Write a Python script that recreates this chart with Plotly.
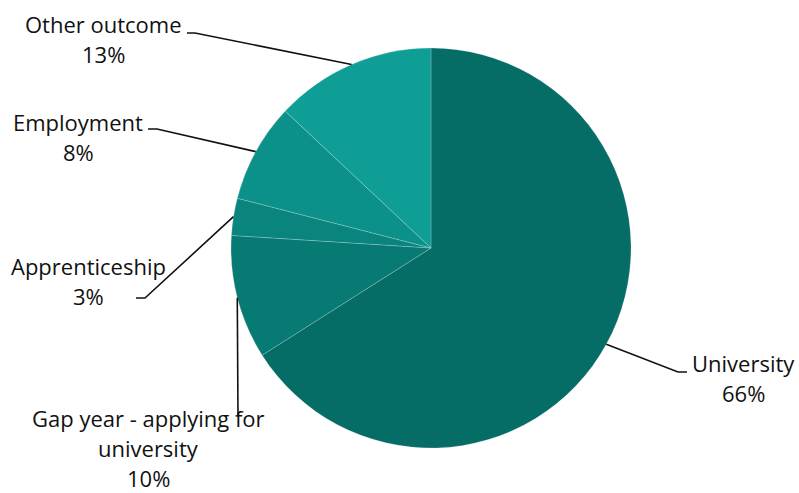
import math
import plotly.graph_objects as go

# ---- data ----
labels = ["University", "Gap year - applying for university", "Apprenticeship", "Employment", "Other outcome"]
values = [66, 10, 3, 8, 13]
label_lines = [["University"], ["Gap year - applying for", "university"], ["Apprenticeship"], ["Employment"], ["Other outcome"]]
colors = ["#056C66", "#077A73", "#09857E", "#0B9189", "#0E9E95"]

# ---- layout constants (pixels) ----
W, H = 799, 493
CX, CY, R = 431, 248, 200
FONT = "Open Sans"
FS = 22
LINE_H = 30

# label placement: (elbow point, end point, text center x, text first line center y)
placement = {
    "University": ((678, 372), (687, 372), 743, 363),
    "Gap year - applying for university": ((238, 417), (238, 417), 148, 418),
    "Apprenticeship": ((145, 298), (136, 298), 88, 266),
    "Employment": ((157, 129), (148, 129), 78, 122),
    "Other outcome": ((195, 33), (187, 33), 103, 24),
}

def px(x):
    return x / W

def py(y):
    return 1 - y / H

fig = go.Figure(go.Pie(
    labels=labels,
    values=values,
    sort=False,
    direction="clockwise",
    rotation=0,
    marker=dict(colors=colors, line=dict(color="rgba(255,255,255,0.25)", width=0.8)),
    textinfo="none",
    hoverinfo="label+percent",
    domain=dict(x=[px(CX - R), px(CX + R)], y=[py(CY + R), py(CY - R)]),
    showlegend=False,
))

annotations = []
shapes = []
total = sum(values)
cum = 0
for lab, val, lines in zip(labels, values, label_lines):
    mid = (cum + val / 2) / total * 2 * math.pi
    cum += val
    ax = CX + R * math.sin(mid)
    ay = CY - R * math.cos(mid)
    (ex, ey), (tx, ty), cx_text, cy_text = placement[lab]
    path = f"M {px(ax)},{py(ay)} L {px(ex)},{py(ey)} L {px(tx)},{py(ty)}"
    shapes.append(dict(type="path", xref="paper", yref="paper", path=path,
                       line=dict(color="#111111", width=1.6)))
    pct = round(val / total * 100)
    text_rows = lines + [f"{pct}%"]
    for i, row in enumerate(text_rows):
        annotations.append(dict(
            x=px(cx_text), y=py(cy_text + i * LINE_H), xref="paper", yref="paper",
            text=row, showarrow=False, xanchor="center", yanchor="middle", borderpad=0,
            font=dict(family=FONT, size=FS, color="#111111", weight=500),
        ))

fig.update_layout(
    width=W, height=H,
    margin=dict(l=0, r=0, t=0, b=0),
    paper_bgcolor="white",
    plot_bgcolor="white",
    annotations=annotations,
    shapes=shapes,
)

fig.write_html("out.html", config={"displayModeBar": False},
               post_script="document.body.style.margin='0';document.body.style.overflow='hidden';")
